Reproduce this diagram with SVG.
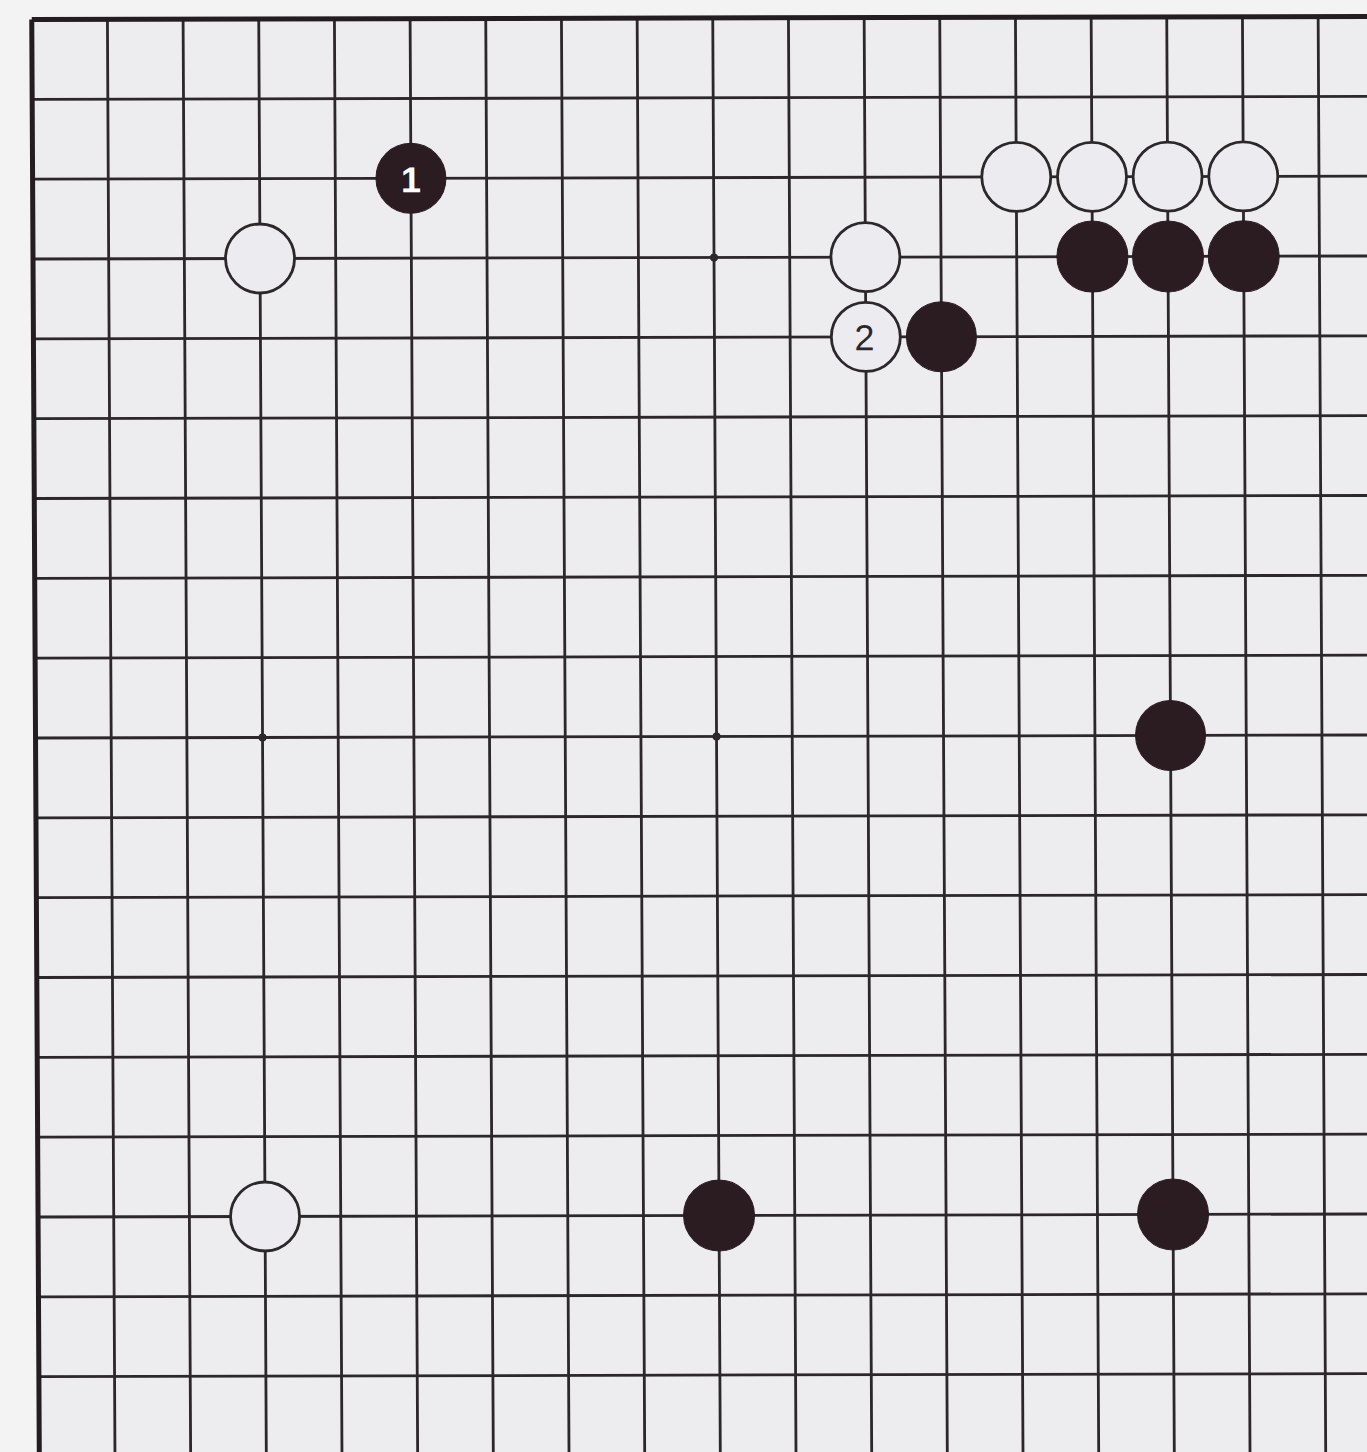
<svg xmlns="http://www.w3.org/2000/svg" width="1367" height="1452" viewBox="0 0 1367 1452">
<style>
.g{stroke:#2b272a;stroke-width:2.8;fill:none}
.b{stroke:#231c20;stroke-width:5;fill:none}
.w{fill:#ecebef;stroke:#2b272a;stroke-width:2.8}
.k{fill:#2a1c21;stroke:#2a1c21;stroke-width:1}
.h{fill:#2b272a}
.n{font-family:"Liberation Sans",Arial,sans-serif;font-size:36px;text-anchor:middle;dominant-baseline:central}
</style>
<rect width="1367" height="1452" fill="#f4f3f4"/>
<g transform="matrix(1 -0.00225 0.00526 1 31.75 19.5)">
<rect x="0" y="0" width="1400" height="1460" fill="#edecef"/>
<g id="grid">
<path class="g" d="M75.67 0V1460M151.34 0V1460M227 0V1460M302.68 0V1460M378.35 0V1460M454 0V1460M529.7 0V1460M605.4 0V1460M681 0V1460M756.7 0V1460M832.4 0V1460M908 0V1460M983.7 0V1460M1059.4 0V1460M1135 0V1460M1210.7 0V1460M1286.4 0V1460"/>
<path class="g" d="M0 79.83H1400M0 159.66H1400M0 239.5H1400M0 319.3H1400M0 399.15H1400M0 479H1400M0 558.8H1400M0 638.6H1400M0 718.5H1400M0 798.3H1400M0 878.1H1400M0 958H1400M0 1037.8H1400M0 1117.6H1400M0 1197.5H1400M0 1277.3H1400M0 1357.1H1400M0 1437H1400"/>
<path class="b" d="M0 0H1400M0 0V1460"/>
<circle class="h" cx="681" cy="239.5" r="4"/>
<circle class="h" cx="227" cy="718.5" r="4"/>
<circle class="h" cx="681" cy="718.5" r="4"/>
</g>
<g id="b1"><circle class="k" cx="378.35" cy="159.66" r="35"/><text class="n" x="378.35" y="161" fill="#ffffff" font-weight="bold">1</text></g>
<g id="w-3-3"><circle class="w" cx="227" cy="239.5" r="34.5"/></g>
<g id="w-11-3"><circle class="w" cx="832.4" cy="239.5" r="34.5"/></g>
<g id="w2"><circle class="w" cx="832.4" cy="319.3" r="34.5"/><text class="n" x="831" y="320" fill="#2b272a">2</text></g>
<g id="b-12-4"><circle class="k" cx="908" cy="319.3" r="35"/></g>
<g id="w-13-2"><circle class="w" cx="983.7" cy="159.66" r="34.5"/></g>
<g id="w-14-2"><circle class="w" cx="1059.4" cy="159.66" r="34.5"/></g>
<g id="w-15-2"><circle class="w" cx="1135" cy="159.66" r="34.5"/></g>
<g id="w-16-2"><circle class="w" cx="1210.7" cy="159.66" r="34.5"/></g>
<g id="b-14-3"><circle class="k" cx="1059.4" cy="239.5" r="35.5"/></g>
<g id="b-15-3"><circle class="k" cx="1135" cy="239.5" r="35.5"/></g>
<g id="b-16-3"><circle class="k" cx="1210.7" cy="239.5" r="35.5"/></g>
<g id="b-15-9"><circle class="k" cx="1135" cy="718.5" r="35"/></g>
<g id="w-3-15"><circle class="w" cx="227" cy="1197.5" r="34.5"/></g>
<g id="b-9-15"><circle class="k" cx="681" cy="1197.5" r="35.5"/></g>
<g id="b-15-15"><circle class="k" cx="1135" cy="1197.5" r="35.5"/></g>
</g>
</svg>
